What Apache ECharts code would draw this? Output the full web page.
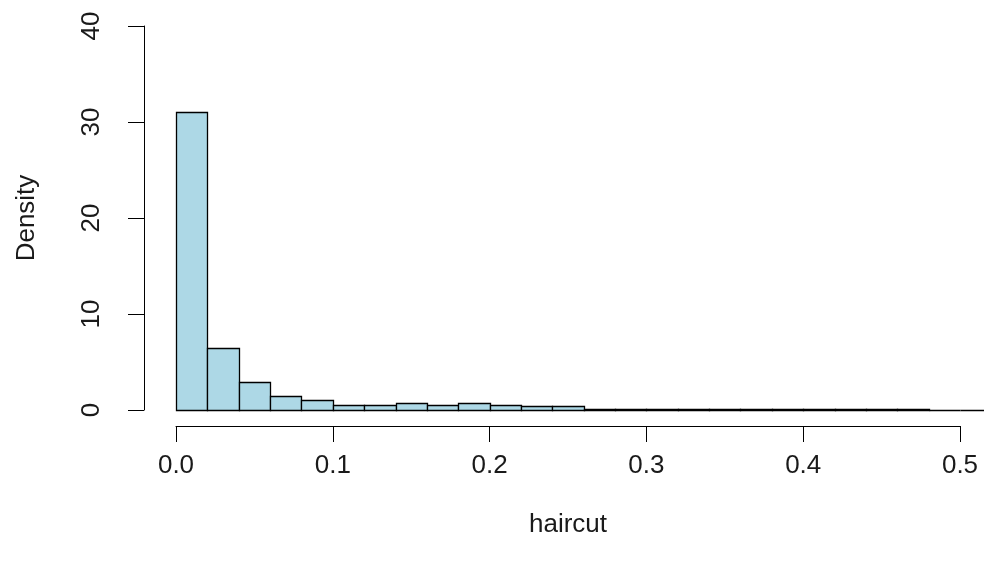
<!DOCTYPE html>
<html>
<head>
<meta charset="utf-8">
<script src="https://cdn.jsdelivr.net/npm/echarts@6/dist/echarts.min.js"></script>
<style>
html,body{margin:0;padding:0;background:#fff;}
#chart{width:984px;height:564px;}
</style>
</head>
<body>
<div id="chart"></div>
<script>
// Histogram bin breaks (haircut)
const breaks = [0.00, 0.02, 0.04, 0.06, 0.08, 0.10, 0.12, 0.14, 0.16, 0.18, 0.20, 0.22, 0.24, 0.26,
                0.28, 0.30, 0.32, 0.34, 0.36, 0.38, 0.40, 0.42, 0.44, 0.46, 0.48, 0.50, 0.52];
// Density per bin
const densities = [31.0, 6.5, 2.9, 1.45, 1.05, 0.55, 0.5, 0.72, 0.52, 0.72, 0.55, 0.38, 0.38,
                   0.15, 0.12, 0.1, 0.1, 0.08, 0.1, 0.08, 0.08, 0.1, 0.08, 0.1, 0, 0];
// Axis ticks
const xTicks = [0.0, 0.1, 0.2, 0.3, 0.4, 0.5];
const yTicks = [0, 10, 20, 30, 40];
const xTitle = 'haircut';
const yTitle = 'Density';

const binData = densities.map((d, i) => [breaks[i], breaks[i + 1], d]);

const FONT = 'Liberation Sans, Arial, sans-serif';
const FS = 26;
const TXT = '#1a1a1a';

const crisp = v => Math.round(v) + 0.5;

const chart = echarts.init(document.getElementById('chart'), null, {renderer: 'canvas'});
chart.setOption({
  animation: false,
  backgroundColor: '#ffffff',
  grid: [
    {left: 176, right: 0, top: 26, bottom: 154},
    {left: 176, width: 784, top: 26, bottom: 154}
  ],
  xAxis: [
    {type: 'value', gridIndex: 0, min: 0, max: 808 / 1568, show: false},
    {
      type: 'value', gridIndex: 1,
      min: xTicks[0], max: xTicks[xTicks.length - 1], interval: 0.1,
      position: 'bottom', offset: 16,
      name: xTitle, nameLocation: 'middle', nameGap: 86,
      nameTextStyle: {fontFamily: FONT, fontSize: FS, color: TXT},
      splitLine: {show: false},
      axisLine: {show: true, onZero: false, lineStyle: {color: '#000', width: 1}},
      axisTick: {show: true, length: 16, lineStyle: {color: '#000', width: 1}},
      axisLabel: {
        margin: 27, fontFamily: FONT, fontSize: FS, color: TXT,
        formatter: v => v.toFixed(1)
      }
    }
  ],
  yAxis: [
    {
      type: 'value', gridIndex: 0,
      min: yTicks[0], max: yTicks[yTicks.length - 1], interval: 10,
      position: 'left', offset: 32,
      name: yTitle, nameLocation: 'middle', nameGap: 104, nameRotate: 90,
      nameTextStyle: {fontFamily: FONT, fontSize: FS, color: TXT},
      splitLine: {show: false},
      axisLine: {show: true, onZero: false, lineStyle: {color: '#000', width: 1}},
      axisTick: {show: true, length: 16, lineStyle: {color: '#000', width: 1}},
      axisLabel: {margin: 39, rotate: 90, fontFamily: FONT, fontSize: FS, color: TXT}
    },
    {type: 'value', gridIndex: 1, min: 0, max: 40, show: false}
  ],
  series: [{
    type: 'custom',
    xAxisIndex: 0, yAxisIndex: 0,
    clip: false,
    data: binData,
    renderItem: function (params, api) {
      const p0 = api.coord([api.value(0), 0]);
      const p1 = api.coord([api.value(1), api.value(2)]);
      const x0 = crisp(p0[0]), x1 = crisp(p1[0]);
      const yb = crisp(p0[1]), yt = crisp(p1[1]);
      return {
        type: 'rect',
        shape: {x: x0, y: yt, width: x1 - x0, height: yb - yt},
        style: {fill: '#ADD8E6', stroke: '#000', lineWidth: 1.3}
      };
    }
  }]
});
</script>
</body>
</html>
